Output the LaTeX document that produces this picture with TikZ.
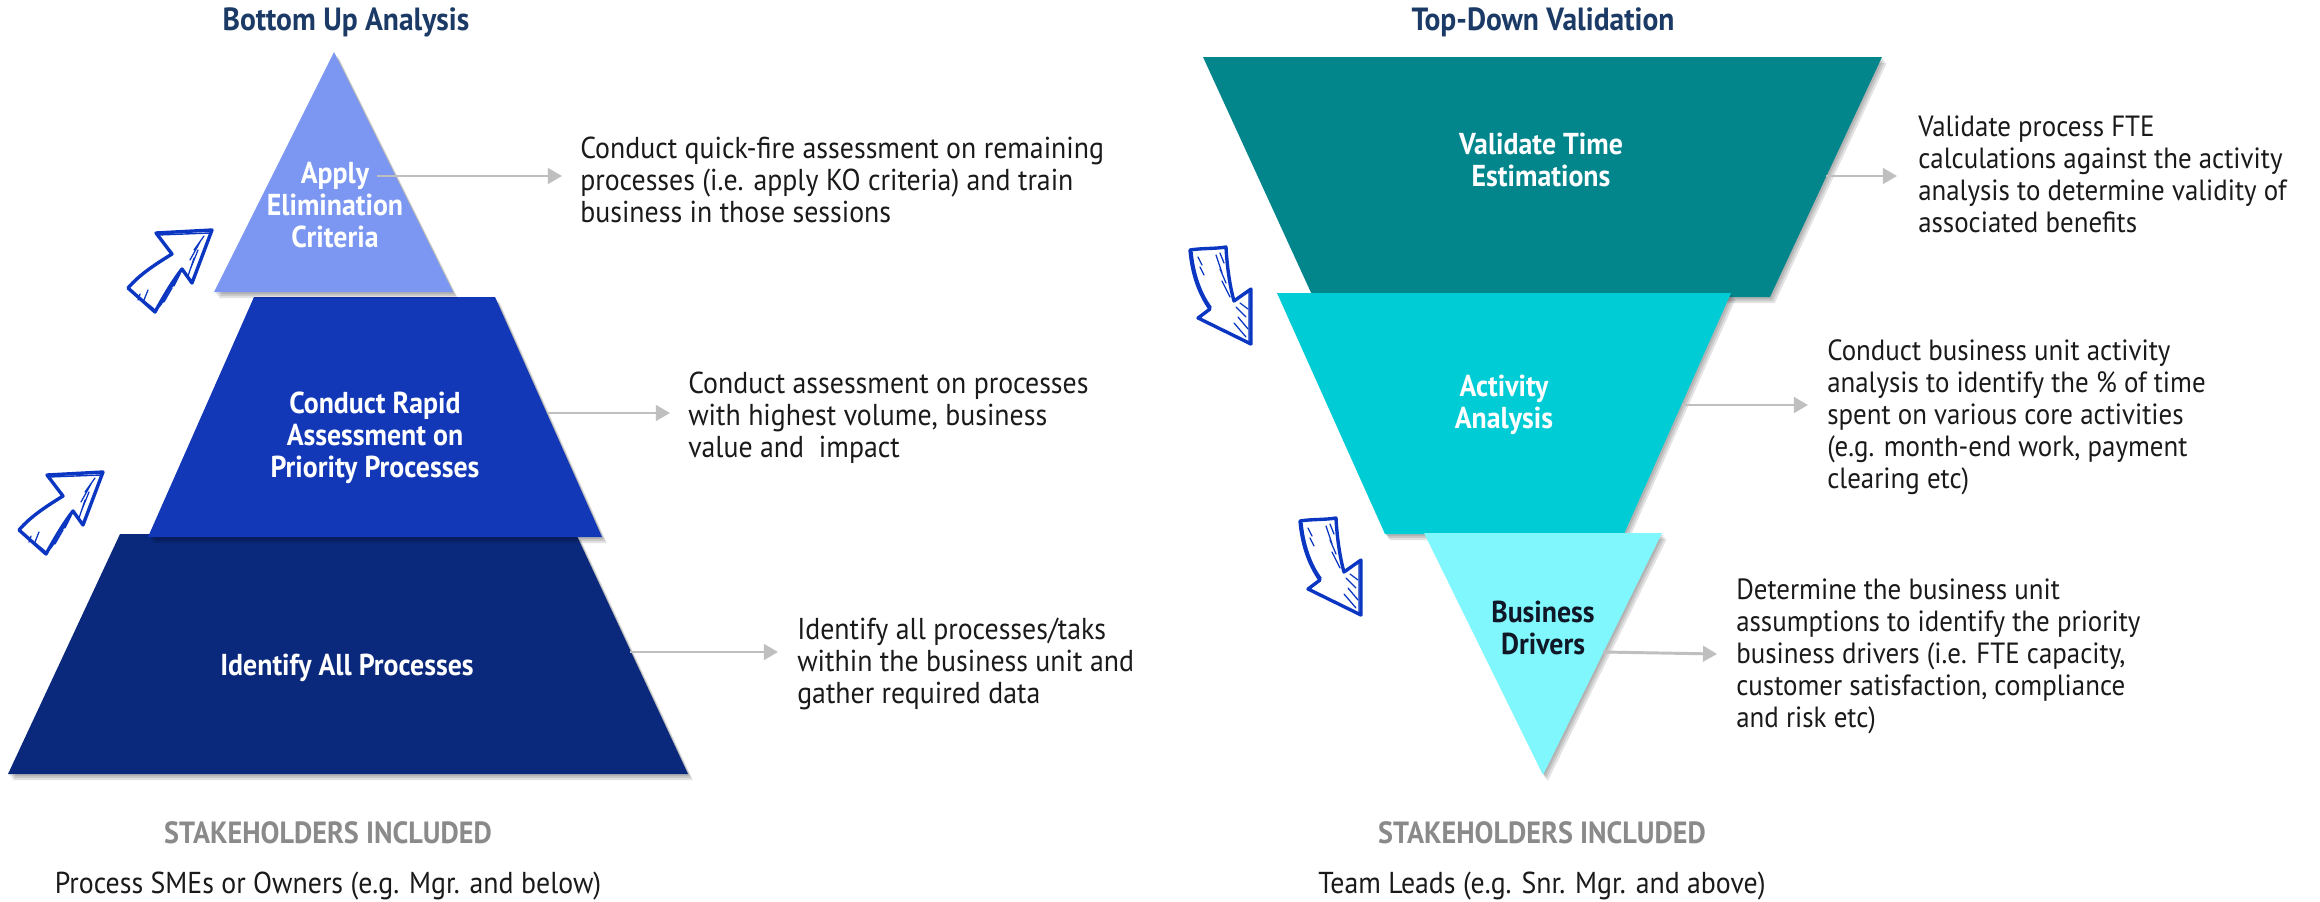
\documentclass[tikz,border=0pt]{standalone}
\usepackage{fontspec}
\setmainfont{PT Sans}[FakeStretch=0.92]
\usetikzlibrary{arrows.meta}
\definecolor{triA}{HTML}{7B97F2}
\definecolor{triB}{HTML}{1237B7}
\definecolor{triC}{HTML}{0B297C}
\definecolor{invA}{HTML}{02868C}
\definecolor{invB}{HTML}{00CCD5}
\definecolor{invC}{HTML}{7FF7FC}
\definecolor{titlec}{HTML}{1B3A66}
\definecolor{stakec}{HTML}{8A8A8A}
\definecolor{bodyc}{HTML}{1A1A1A}
\definecolor{darklbl}{HTML}{101828}
\definecolor{connc}{HTML}{BFBFBF}
\definecolor{penc}{HTML}{0A36C2}
\tikzset{
 body/.style={anchor=west, align=left, inner sep=0pt, text=bodyc, font=\fontsize{21.5}{22.8}\selectfont},
 bodyr/.style={body, font=\fontsize{20.8}{22.8}\selectfont},
 lbl/.style={align=center, inner sep=0pt, text=white, font=\bfseries\fontsize{21.5}{22.8}\selectfont},
 ttl/.style={inner sep=0pt, text=titlec, font=\bfseries\fontsize{22.8}{22.8}\selectfont},
 stake/.style={inner sep=0pt, text=stakec, font=\bfseries\fontsize{21.8}{22.8}\selectfont},
 who/.style={inner sep=0pt, text=bodyc, font=\fontsize{21.5}{22.8}\selectfont},
 conn/.style={draw=connc, line width=2.1pt, -{Triangle[length=10pt,width=11pt]}},
 shd/.style={fill=black, opacity=0.11},
 shpA/.style={insert path={(334,52) -- (453,292) -- (214,292) -- cycle}},
 shpB/.style={insert path={(254,297) -- (495,297) -- (602,537) -- (148,537) -- cycle}},
 shpC/.style={insert path={(120,534) -- (576,534) -- (688,774) -- (8,774) -- cycle}},
 shpD/.style={insert path={(1203,57) -- (1882,57) -- (1770,297) -- (1313,297) -- cycle}},
 shpE/.style={insert path={(1277,293) -- (1731,293) -- (1624,534) -- (1385,534) -- cycle}},
 shpF/.style={insert path={(1424,533) -- (1662,533) -- (1543,775) -- cycle}},
 pen/.style={draw=penc, line width=2.4pt, line join=round, line cap=round},
 hatch/.style={draw=penc, line width=0.9pt, line cap=round},
 handup/.pic={
   \path[pen, fill=white]
     (84,0) -- (28,3) -- (44,24) .. controls (28,34) and (12,44) .. (0,58)
     -- (27,82) .. controls (36,66) and (44,52) .. (54,39) -- (64,53) -- cycle;
   \path[pen, line width=1pt] (82,3) -- (30,5) (2,60) -- (26,79);
   \path[hatch] (76,6) -- (66,20) (72,12) -- (62,30) (70,20) -- (62,40) (66,28) -- (60,46)
     (52,44) -- (46,56) (48,50) -- (40,64) (44,58) -- (36,72) (40,64) -- (32,76)
     (20,60) -- (16,70) (12,64) -- (10,70);
 },
 handdown/.pic={
   \path[pen, fill=white]
     (0,3) .. controls (2,25) and (8,45) .. (20,62) -- (8,71) -- (61,97) -- (61,42)
     -- (44,54) .. controls (40,40) and (37,20) .. (36,0) .. controls (24,2) and (12,1) .. (0,3) -- cycle;
   \path[pen, line width=1pt] (2,5) .. controls (4,25) and (10,45) .. (21,60) (59,45) -- (59,94);
   \path[hatch] (30,6) -- (34,16) (26,8) -- (32,26) (30,22) -- (36,36) (32,34) -- (40,50)
     (46,60) -- (56,70) (50,56) -- (58,62) (48,70) -- (58,82) (44,76) -- (56,90)
     (8,10) -- (12,18) (10,20) -- (14,28);
 },
}
\begin{document}
\begin{tikzpicture}[x=0.025cm, y=-0.025cm]
\useasboundingbox (0,0) rectangle (2320,901);
\fill[white] (0,0) rectangle (2320,901);

% ---------- left pyramid ----------
\foreach \s in {2,4,6} {\fill[shd, shift={(\s*0.8,\s)}, shpC];}
\fill[triC, shpC];
\foreach \s in {2,4,6} {\fill[shd, shift={(\s*0.8,\s)}, shpB];}
\fill[triB, shpB];
\foreach \s in {2,4,6} {\fill[shd, shift={(\s*0.8,\s)}, shpA];}
\fill[triA, shpA];

% ---------- right funnel ----------
\foreach \s in {2,4,6} {\fill[shd, shift={(\s*0.8,\s)}, shpD];}
\fill[invA, shpD];
\foreach \s in {2,4,6} {\fill[shd, shift={(\s*0.8,\s)}, shpE];}
\fill[invB, shpE];
\foreach \s in {2,4,6} {\fill[shd, shift={(\s*0.8,\s)}, shpF];}
\fill[invC, shpF];

% ---------- titles ----------
\node[ttl] (t1) at (346,22) {Bottom Up Analysis};
\node[ttl] (t2) at (1543,22) {Top-Down Validation};

% ---------- shape labels ----------
\node[lbl] (l1) at (335,205) {Apply\\Elimination\\Criteria};
\node[lbl] (l2) at (375,438) {Conduct Rapid\\Assessment on\\Priority Processes};
\node[lbl] (l3) at (347,668) {Identify All Processes};
\node[lbl] (r1) at (1541,160) {Validate Time\\Estimations};
\node[lbl] (r2) at (1504,405) {Activity\\Analysis};
\node[lbl, text=darklbl] (r3) at (1543,628) {Business\\Drivers};

% ---------- descriptions ----------
\node[body] (d1) at (580,180) {Conduct quick-fire assessment on remaining\\processes (i.e. apply KO criteria) and train\\business in those sessions};
\node[body] (d2) at (688,418) {Conduct assessment on processes\\with highest volume, business\\value and~ impact};
\node[body] (d3) at (797,664) {Identify all processes/taks\\within the business unit and\\gather required data};
\node[bodyr] (d4) at (1918,174) {Validate process FTE\\calculations against the activity\\analysis to determine validity of\\associated benefits};
\node[bodyr] (d5) at (1827,417) {Conduct business unit activity\\analysis to identify the \% of time\\spent on various core activities\\(e.g. month-end work, payment\\clearing etc)};
\node[bodyr] (d6) at (1736,656) {Determine the business unit\\assumptions to identify the priority\\business drivers (i.e. FTE capacity,\\customer satisfaction, compliance\\and risk etc)};

% ---------- connectors ----------
\coordinate (s1) at (377,176); \coordinate (e1) at (562,176);
\coordinate (s2) at (547,413); \coordinate (e2) at (670,413);
\coordinate (s3) at (630,652); \coordinate (e3) at (778,652);
\coordinate (s4) at (1826,176); \coordinate (e4) at (1897,176);
\coordinate (s5) at (1682,405); \coordinate (e5) at (1808,405);
\coordinate (s6) at (1603,652); \coordinate (e6) at (1717,654);
\draw[conn] (s1) -- (e1);
\draw[conn] (s2) -- (e2);
\draw[conn] (s3) -- (e3);
\draw[conn] (s4) -- (e4);
\draw[conn] (s5) -- (e5);
\draw[conn] (s6) -- (e6);

% ---------- hand-drawn arrows ----------
\pic at (128,230) {handup};
\pic at (19,472) {handup};
\pic at (1190,247) {handdown};
\pic at (1300,518) {handdown};

% ---------- stakeholders ----------
\node[stake] (k1) at (328,833) {STAKEHOLDERS INCLUDED};
\node[stake] (k2) at (1542,833) {STAKEHOLDERS INCLUDED};
\node[who] (w1) at (328,886) {Process SMEs or Owners (e.g. Mgr. and below)};
\node[who] (w2) at (1542,886) {Team Leads (e.g. Snr. Mgr. and above)};
\end{tikzpicture}
\end{document}
